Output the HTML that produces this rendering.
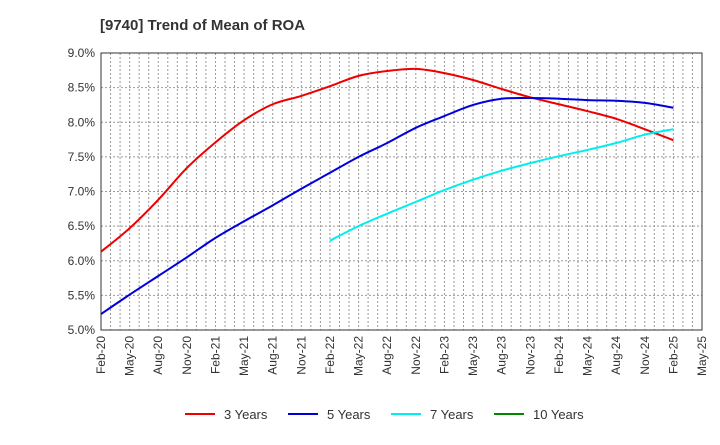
<!DOCTYPE html>
<html><head><meta charset="utf-8"><style>
body{margin:0;background:#fff;font-family:"Liberation Sans",sans-serif}
svg text{font-family:"Liberation Sans",sans-serif;fill:#333}
</style></head><body>
<svg id="c" width="720" height="440">
<text x="100" y="30" font-size="15" font-weight="bold">[9740]  Trend of Mean of ROA</text>
<g id="grid"></g><g id="axes"></g><g id="series"></g><g id="legend"></g>
</svg>
<script>
const xLabels=["Feb-20","May-20","Aug-20","Nov-20","Feb-21","May-21","Aug-21","Nov-21","Feb-22","May-22","Aug-22","Nov-22","Feb-23","May-23","Aug-23","Nov-23","Feb-24","May-24","Aug-24","Nov-24","Feb-25","May-25"];
const yTicks=[5.0,5.5,6.0,6.5,7.0,7.5,8.0,8.5,9.0];
const months3=[0,3,6,9,12,15,18,21,24,27,30,33,36,39,42,45,48,51,54,57,60];
const vals3=[6.13,6.47,6.88,7.34,7.71,8.03,8.26,8.38,8.52,8.67,8.74,8.77,8.71,8.61,8.48,8.36,8.26,8.16,8.05,7.90,7.74];
const vals5=[5.23,5.51,5.78,6.05,6.33,6.57,6.80,7.04,7.27,7.50,7.70,7.92,8.09,8.25,8.34,8.35,8.34,8.32,8.31,8.28,8.21];
const months7=[24,27,30,33,36,39,42,45,48,51,54,57,60];
const vals7=[6.29,6.50,6.68,6.85,7.02,7.17,7.30,7.41,7.51,7.60,7.70,7.82,7.90];
const months10=[];const vals10=[];
const L=101,R=702,T=53,B=330,NM=63;
const xs=m=>L+m*(R-L)/NM, ys=v=>B-(v-5)*(B-T)/4;
const NS="http://www.w3.org/2000/svg";
function mk(t,a,p){const e=document.createElementNS(NS,t);for(const k in a)e.setAttribute(k,a[k]);p.appendChild(e);return e;}
const g=document.getElementById('grid'),ax=document.getElementById('axes'),s=document.getElementById('series'),lg=document.getElementById('legend');
for(let m=1;m<NM;m++){const l=mk('line',{x1:xs(m),x2:xs(m),y1:T,y2:B,stroke:'#999','stroke-dasharray':'2,2','stroke-width':1},g);

}
yTicks.forEach(v=>{const l=mk('line',{x1:L,x2:R,y1:ys(v),y2:ys(v),stroke:'#999','stroke-dasharray':'2,2'},g);


const t=mk('text',{x:L-6,y:ys(v)+4,'text-anchor':'end','font-size':12},ax);t.textContent=v.toFixed(1)+'%';

});
const fr=mk('rect',{x:L,y:T,width:R-L,height:B-T,fill:'none',stroke:'#333'},ax);


xLabels.forEach((lb,i)=>{const x=xs(i*3);const t=mk('text',{transform:`translate(${x+4},${B+6}) rotate(-90)`,'text-anchor':'end','font-size':12},ax);t.textContent=lb;

});
function path(ms,vs){if(!ms.length)return '';const p=ms.map((m,i)=>[xs(m),ys(vs[i])]);let d=`M${p[0][0]},${p[0][1]}`;
for(let i=0;i<p.length-1;i++){const p0=p[i-1]||p[i],p1=p[i],p2=p[i+1],p3=p[i+2]||p2;
d+=` C${p1[0]+(p2[0]-p0[0])/6},${p1[1]+(p2[1]-p0[1])/6} ${p2[0]-(p3[0]-p1[0])/6},${p2[1]-(p3[1]-p1[1])/6} ${p2[0]},${p2[1]}`;}return d;}
const ser=[["3 Years",months3,vals3,"#e00","line-3-years"],["5 Years",months3,vals5,"#00d","line-5-years"],["7 Years",months7,vals7,"#0ee","line-7-years"],["10 Years",months10,vals10,"#080","line-10-years"]];
ser.forEach((sr,i)=>{const p=mk('path',{d:path(sr[1],sr[2]),fill:'none',stroke:sr[3],'stroke-width':2},s);


const lx=185+i*103;
const e=mk('g',{},lg);


mk('line',{x1:lx,x2:lx+30,y1:414,y2:414,stroke:sr[3],'stroke-width':2},e);
const t=mk('text',{x:lx+39,y:419,'font-size':13},e);t.textContent=sr[0];});
</script>
</body></html>
